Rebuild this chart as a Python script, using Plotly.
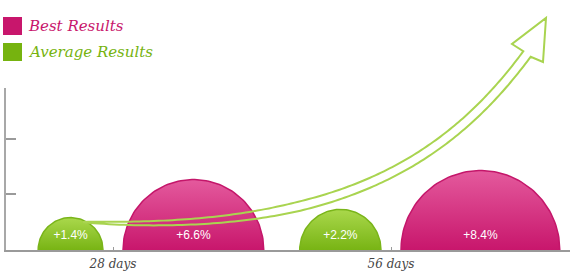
import numpy as np
import plotly.graph_objects as go

# ---- data ----
categories = ["28 days", "56 days"]
best_results = [6.6, 8.4]      # percent
average_results = [1.4, 2.2]   # percent
series_names = ["Best Results", "Average Results"]

# ---- styling / layout constants ----
W, H = 570, 274
ML, MR, MT, MB = 6, 0, 88, 24
PW, PH = W - ML - MR, H - MT - MB
PX_PER_UNIT = 278.0            # px per category step (same for both axes)
cat_x = list(range(len(categories)))
x_lo = -(113 - ML) / PX_PER_UNIT
x_hi = x_lo + PW / PX_PER_UNIT
y_hi = PH / PX_PER_UNIT
K = 27.4 / PX_PER_UNIT         # radius per sqrt(percent): area ~ value
GAP = 10 / PX_PER_UNIT

PINK_TOP, PINK_BOT, PINK_EDGE = "#e45a9d", "#c8166c", "#c4166a"
GREEN_TOP, GREEN_BOT, GREEN_EDGE = "#aad84c", "#78b414", "#7ab51a"
ARROW = "#a9d450"

fig = go.Figure()

theta = np.linspace(0, np.pi, 80)

def dome(cx, r, top, bot, edge):
    xs = cx + r * np.cos(theta)
    ys = r * np.sin(theta)
    fig.add_trace(go.Scatter(
        x=xs, y=ys, mode="lines", fill="toself",
        line=dict(color=edge, width=1.5),
        fillgradient=dict(type="vertical", start=0, stop=r,
                          colorscale=[[0, bot], [1, top]]),
        hoverinfo="skip", showlegend=False))

lab_x, lab_t = [], []
for i, c in enumerate(cat_x):
    ra = K * np.sqrt(average_results[i])
    rb = K * np.sqrt(best_results[i])
    ca = c - GAP - ra
    cb = c + GAP + rb
    dome(ca, ra, GREEN_TOP, GREEN_BOT, GREEN_EDGE)
    dome(cb, rb, PINK_TOP, PINK_BOT, PINK_EDGE)
    lab_x += [ca, cb]
    lab_t += ["+%.1f%%" % average_results[i], "+%.1f%%" % best_results[i]]

fig.add_trace(go.Scatter(
    x=lab_x, y=[14 / PX_PER_UNIT] * len(lab_x), mode="text", text=lab_t,
    textfont=dict(color="white", size=12, family="Liberation Sans, Arial"),
    hoverinfo="skip", showlegend=False))

# ---- decorative arrow (pixel space -> paper) ----
P0, P1, P2, P3 = map(np.array, [(83, 222), (330, 234), (445, 165), (527, 54)])
t = np.linspace(0, 1, 140)
B = (np.outer((1 - t) ** 3, P0) + np.outer(3 * (1 - t) ** 2 * t, P1)
     + np.outer(3 * (1 - t) * t ** 2, P2) + np.outer(t ** 3, P3))
d = (np.outer(3 * (1 - t) ** 2, P1 - P0) + np.outer(6 * (1 - t) * t, P2 - P1)
     + np.outer(3 * t ** 2, P3 - P2))
d = d / np.linalg.norm(d, axis=1)[:, None]
n = np.stack([d[:, 1], -d[:, 0]], axis=1)
w = 4.6 * np.minimum(1, t / 0.35) ** 0.6
upper = B + n * w[:, None]
lower = B - n * w[:, None]
head = [(512, 44), (546, 18), (543, 62)]
pts = list(map(tuple, upper)) + head + list(map(tuple, lower[::-1]))
path = ""
for k, (px, py) in enumerate(pts):
    xp, yp = (px - ML) / PW, (MT + PH - py) / PH
    path += ("M" if k == 0 else "L") + f"{xp:.5f},{yp:.5f} "
path += "Z"
fig.add_shape(type="path", xref="paper", yref="paper", path=path,
              line=dict(color=ARROW, width=2), fillcolor="rgba(0,0,0,0)",
              layer="above")

# ---- legend (squares + text) ----
legend_cols = [PINK_BOT, "#76b30f"]
for j, (name, col) in enumerate(zip(series_names, legend_cols)):
    y0, y1 = 17 + j * 26, 35 + j * 26
    fig.add_shape(type="rect", xref="paper", yref="paper",
                  x0=(3 - ML) / PW, x1=(22 - ML) / PW,
                  y0=(MT + PH - y1) / PH, y1=(MT + PH - y0) / PH,
                  fillcolor=col, line=dict(width=0))
    fig.add_annotation(xref="paper", yref="paper",
                       x=(26 - ML) / PW, y=(MT + PH - (y0 + y1) / 2) / PH,
                       text=f"<i>{name}</i>", showarrow=False,
                       xanchor="left", yanchor="middle",
                       font=dict(family="DejaVu Serif", size=15, color=col))

fig.update_layout(
    width=W, height=H, margin=dict(l=ML, r=MR, t=MT, b=MB),
    paper_bgcolor="white", plot_bgcolor="white", showlegend=False,
    xaxis=dict(range=[x_lo, x_hi], tickvals=cat_x,
               ticktext=[f"<i>{c}</i>" for c in categories],
               ticks="inside", ticklen=3, tickcolor="#9a9a9a",
               showline=True, linecolor="#9a9a9a", linewidth=1.5,
               showgrid=False, zeroline=False, ticklabelstandoff=2,
               tickfont=dict(family="DejaVu Serif", size=12, color="#444")),
    yaxis=dict(range=[0, y_hi], tickvals=[0.2, 0.4], showticklabels=False,
               ticks="inside", ticklen=10, tickcolor="#9a9a9a", tickwidth=1.5,
               showline=True, linecolor="#a8a8a8", linewidth=1.5,
               showgrid=False, zeroline=False),
)

fig.write_html("out.html")
